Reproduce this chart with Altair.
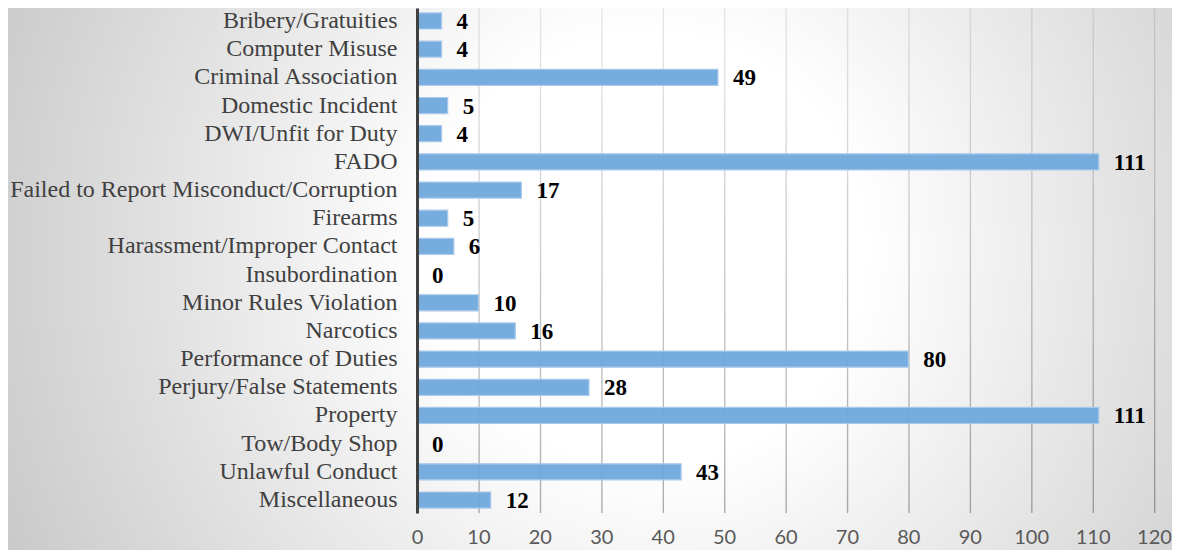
import altair as alt
import pandas as pd

categories = [
    "Bribery/Gratuities", "Computer Misuse", "Criminal Association",
    "Domestic Incident", "DWI/Unfit for Duty", "FADO",
    "Failed to Report Misconduct/Corruption", "Firearms",
    "Harassment/Improper Contact", "Insubordination",
    "Minor Rules Violation", "Narcotics", "Performance of Duties",
    "Perjury/False Statements", "Property", "Tow/Body Shop",
    "Unlawful Conduct", "Miscellaneous",
]
counts = [4, 4, 49, 5, 4, 111, 17, 5, 6, 0, 10, 16, 80, 28, 111, 0, 43, 12]
tick_values = [0, 10, 20, 30, 40, 50, 60, 70, 80, 90, 100, 110, 120]

W, H = 737, 505
PAD_L, PAD_T, PAD_R, PAD_B = 409, 0, 18, 37

df = pd.DataFrame({"category": categories, "count": counts})
grid_df = pd.DataFrame({"t": tick_values, "t2": [t + 0.22 for t in tick_values]})
bg_df = pd.DataFrame({"k": [0]})

xscale = alt.Scale(domain=[0, 120], nice=False, zero=True)
yscale = alt.Scale(domain=categories, paddingInner=0.43, paddingOuter=0.176)

x_axis = alt.Axis(
    values=tick_values, grid=False, domain=False, ticks=False,
    labelFont="Lato", labelFontSize=20, labelColor="#595959",
    labelPadding=24, labelBaseline="middle", labelFlush=False,
    title=None, zindex=1)
y_axis = alt.Axis(
    title=None, domain=True, domainColor="#404040", domainWidth=3,
    ticks=False, grid=False, labelFont="Liberation Serif",
    labelFontSize=24, labelColor="#404040", labelPadding=20,
    labelLimit=600, zindex=1)

# background: circular radial gradient drawn with one huge circle symbol
bg_grad = alt.RadialGradient(
    gradient="radial",
    stops=[
        alt.GradientStop(color="#ffffff", offset=0),
        alt.GradientStop(color="#ffffff", offset=0.3),
        alt.GradientStop(color="#c8c8c8", offset=1),
    ],
    x1=0.5, y1=0.5, r1=0,
    x2=0.5, y2=0.5, r2=0.5,
)

bg_base = alt.Chart(bg_df).mark_rect(fill="#c8c8c8", strokeWidth=0).encode(
    x=alt.value(-PAD_L), x2=alt.value(W + PAD_R),
    y=alt.value(-PAD_T), y2=alt.value(H + PAD_B),
)
bg_glow = alt.Chart(bg_df).mark_point(
    shape="circle", filled=True, fill=bg_grad, opacity=1, strokeWidth=0,
    size=1440 * 1440,
).encode(
    x=alt.value(650 - 8 - PAD_L), y=alt.value(250 - 8 - PAD_T),
)

grid_grad = alt.LinearGradient(
    gradient="linear",
    stops=[
        alt.GradientStop(color="rgba(0,0,0,0.09)", offset=0),
        alt.GradientStop(color="rgba(0,0,0,0.32)", offset=1),
    ],
    x1=0, x2=0, y1=0, y2=1,
)

grid = alt.Chart(grid_df).mark_rect(fill=grid_grad, strokeWidth=0).encode(
    x=alt.X("t:Q", scale=xscale, axis=x_axis),
    x2="t2:Q",
    y=alt.value(0), y2=alt.value(H),
)

bars = alt.Chart(df).mark_bar(
    fill="#6fa8dc", stroke="#a9c9ec", strokeWidth=1.2, fillOpacity=0.95
).encode(
    x=alt.X("count:Q", scale=xscale, axis=x_axis),
    y=alt.Y("category:N", scale=yscale, sort=None, axis=y_axis),
)

labels = alt.Chart(df).mark_text(
    align="left", baseline="middle", dx=15, dy=1,
    font="Liberation Serif", fontSize=23, fontWeight="bold", color="#000000",
).encode(
    x=alt.X("count:Q", scale=xscale, axis=x_axis),
    y=alt.Y("category:N", scale=yscale, sort=None, axis=y_axis),
    text="count:Q",
)

chart = alt.layer(bg_base, bg_glow, grid, bars, labels).properties(
    width=W, height=H,
    autosize=alt.AutoSizeParams(type="none"),
    padding={"left": PAD_L, "top": PAD_T, "right": PAD_R, "bottom": PAD_B},
).configure_view(stroke=None)

chart.save("out.html", embed_options={"renderer": "svg", "actions": False})
